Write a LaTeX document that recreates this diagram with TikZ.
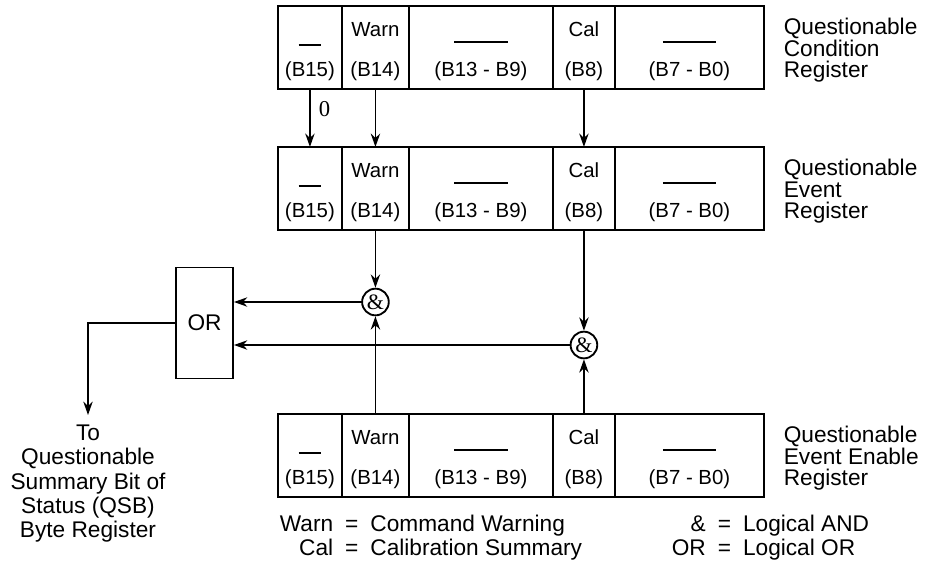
\documentclass[tikz,border=0pt]{standalone}
\usepackage{fontspec}
\setmainfont{Liberation Sans}
\newfontfamily\serifface{Liberation Serif}
\usetikzlibrary{positioning, arrows.meta, matrix}

\newcommand{\regcell}[2]{\begin{tabular}{@{}c@{}}\rule{0pt}{18.4pt}#1\\[12pt](#2)\end{tabular}}
\newcommand{\shortbar}{\rule[-7.5pt]{17pt}{1.3pt}}
\newcommand{\longbar}{\rule[-5.25pt]{40pt}{1.3pt}}

\begin{document}
\begin{tikzpicture}[
    x=0.75pt, y=-0.75pt,
    line width=1.4pt,
    font=\fontsize{17}{16.3}\selectfont,
    cell/.style={rectangle, draw, minimum height=62.25pt, inner xsep=1pt, inner ysep=0pt,
                 font=\fontsize{15.3}{18}\selectfont},
    register/.style={matrix of nodes, nodes={cell}, column sep=-\pgflinewidth, anchor=north west,
                     inner sep=0pt, outer sep=0pt,
                     column 1/.style={nodes={minimum width=48pt}},
                     column 2/.style={nodes={minimum width=50.25pt}},
                     column 3/.style={nodes={minimum width=108pt}},
                     column 4/.style={nodes={minimum width=46.5pt}},
                     column 5/.style={nodes={minimum width=111.75pt}}},
    reglabel/.style={anchor=north west, align=left, inner sep=0pt},
    gate/.style={circle, draw, minimum size=20pt, inner sep=0pt, font=\serifface\fontsize{16.5}{18}\selectfont},
    orbox/.style={rectangle, draw, minimum width=42.75pt, minimum height=83.25pt},
    legend/.style={inner sep=0pt, font=\fontsize{17}{18}\selectfont},
    arrow/.style={-{Stealth[length=10pt, width=7pt]}}
]
\useasboundingbox (0,0) rectangle (934,562);

\matrix (qcr) [register] at (277,5) {
  \regcell{\shortbar}{B15} & \regcell{Warn}{B14} & \regcell{\longbar}{B13 - B9} & \regcell{Cal}{B8} & \regcell{\longbar}{B7 - B0} \\
};
\node[reglabel] (qcrlabel) at ([shift={(18,12)}]qcr.north east) {Questionable\\Condition\\Register};

\matrix (qer) [register] at (277,146) {
  \regcell{\shortbar}{B15} & \regcell{Warn}{B14} & \regcell{\longbar}{B13 - B9} & \regcell{Cal}{B8} & \regcell{\longbar}{B7 - B0} \\
};
\node[reglabel] (qerlabel) at ([shift={(18,12)}]qer.north east) {Questionable\\Event\\Register};

\matrix (qeer) [register] at (277,413) {
  \regcell{\shortbar}{B15} & \regcell{Warn}{B14} & \regcell{\longbar}{B13 - B9} & \regcell{Cal}{B8} & \regcell{\longbar}{B7 - B0} \\
};
\node[reglabel] (qeerlabel) at ([shift={(18,12)}]qeer.north east) {Questionable\\Event Enable\\Register};

\coordinate (androw1) at (0,302);
\coordinate (androw2) at (0,345);
\node[gate] (and1) at (qer-1-2 |- androw1) {\&};
\node[gate] (and2) at (qer-1-4 |- androw2) {\&};
\node[orbox] (or) at (204.5,323) {OR};
\node[legend, anchor=north, align=center, outer ysep=7.5pt, font=\fontsize{17}{18.2}\selectfont] (qsb) at (88,415)
  {To\\Questionable\\Summary Bit of\\Status (QSB)\\Byte Register};

\draw[arrow] (qcr-1-1) -- node[right=6pt, pos=0.35, inner sep=0pt, font=\serifface\fontsize{17}{18}\selectfont]{0} (qer-1-1);
\draw[arrow] (qcr-1-2) -- (qer-1-2);
\draw[arrow] (qcr-1-4) -- (qer-1-4);
\draw[arrow] (qer-1-2) -- (and1);
\draw[arrow] (qer-1-4) -- (and2);
\draw[arrow] (qeer-1-2) -- (and1);
\draw[arrow] (qeer-1-4) -- (and2);
\draw[arrow] (and1) -- (and1 -| or.east);
\draw[arrow] (and2) -- (and2 -| or.east);
\draw[arrow] (or) -| (qsb);

\node[legend, anchor=west] (legleft) at (279,539)
  {\begin{tabular}{@{}r@{\hspace{9pt}=\hspace{9pt}}l@{}}Warn & Command Warning\\Cal & Calibration Summary\end{tabular}};
\node[legend, anchor=east] (legright) at (870,539)
  {\begin{tabular}{@{}r@{\hspace{9pt}=\hspace{9pt}}l@{}}\& & Logical AND\\OR & Logical OR\end{tabular}};
\end{tikzpicture}
\end{document}
